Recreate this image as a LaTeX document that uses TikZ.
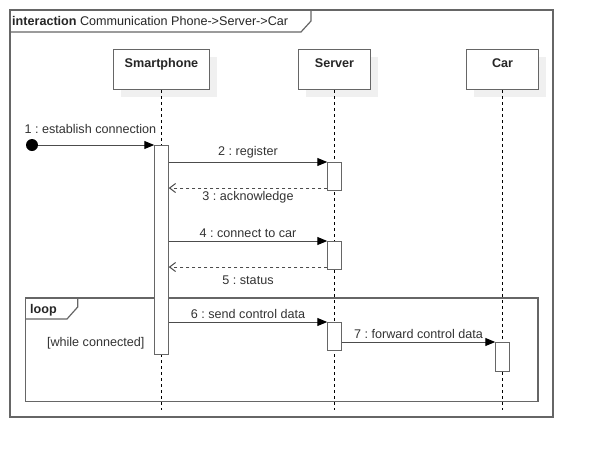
\documentclass[tikz,border=0pt]{standalone}
\usepackage{fontspec}
\setmainfont{Liberation Sans}
\usetikzlibrary{positioning,arrows.meta,shadows}

\tikzset{
  head/.style={draw=black!60, line width=1pt, fill=white, font=\bfseries, text=black!85,
    text height=18pt, text depth=22pt, inner sep=0pt,
    general shadow={fill=black!6, shadow xshift=7pt, shadow yshift=-7pt}},
  act/.style={draw=black!60, line width=1pt, fill=white, minimum width=13.5pt,
    inner sep=0pt, anchor=north},
  life/.style={black, line width=0.8pt, dash pattern=on 3pt off 3pt},
  msg/.style={draw=black!70, line width=1pt,
    -{Triangle[length=10pt,width=8pt,color=black]}},
  ret/.style={draw=black!70, line width=1pt, dash pattern=on 3pt off 3pt,
    -{Straight Barb[length=6pt,width=9pt]}},
  lbl/.style={text=black!80, inner sep=3pt},
  frame/.style={draw=black!60, line width=1.2pt},
}

\begin{document}
\frenchspacing
\fontsize{12.6}{15}\selectfont
\begin{tikzpicture}[x=1pt,y=-1pt]
  \fill[white] (0,0) rectangle (594,458);
  \useasboundingbox (0,0) rectangle (594,458);

  % frames
  \draw[frame] (10,10) rectangle (553,417);
  \draw[frame] (10,32) -- (301,32) -- (311,21) -- (311,10);
  \node[anchor=base west, inner sep=0pt, text=black!85] (ttl) at (12,25.5)
    {\textbf{interaction} Communication Phone->Server->Car};
  \draw[frame] (25.7,298) rectangle (538,401.7);
  \draw[frame] (25.7,319) -- (67,319) -- (77.7,307) -- (77.7,298);
  \node[anchor=base west, inner sep=0pt, text=black!85, font=\bfseries] (lp) at (30,313) {loop};
  \node[anchor=base, inner sep=0pt, text=black!80] (grd) at (95.7,346.5) {[while connected]};

  % lifelines
  \node[head, minimum width=96pt, anchor=north west] (sp) at (113,49) {Smartphone};
  \node[head, minimum width=72pt, right=88pt of sp] (sv) {Server};
  \node[head, minimum width=72pt, right=95pt of sv] (car) {Car};
  \coordinate (sp-end) at (sp.south |- 0,410);
  \coordinate (sv-end) at (sv.south |- 0,410);
  \coordinate (car-end) at (car.south |- 0,410);
  \draw[life] (sp) -- (sp-end);
  \draw[life] (sv) -- (sv-end);
  \draw[life] (car) -- (car-end);

  \node[act, minimum height=209pt] (a1) at (sp.south |- 0,145) {};
  \node[act, minimum height=28pt] (a2) at (sv.south |- 0,162) {};
  \node[act, minimum height=28pt] (a3) at (sv.south |- 0,241) {};
  \node[act, minimum height=28pt] (a4) at (sv.south |- 0,322) {};
  \node[act, minimum height=29pt] (a5) at (car.south |- 0,342) {};
  \node[circle, fill=black, minimum size=12pt, inner sep=0pt] (st) at (32,145) {};

  % messages
  \draw[msg] (st) -- (a1.north west) node[lbl, pos=0.45, above=8pt] {1 : establish connection};
  \draw[msg] (a1.east |- a2.north) -- (a2.north west) node[lbl, midway, above] {2 : register};
  \draw[ret] ([yshift=3pt]a2.south west) coordinate (r3) -- (a1.east |- r3)
    node[lbl, midway, below] {3 : acknowledge};
  \draw[msg] (a1.east |- a3.north) -- (a3.north west) node[lbl, midway, above] {4 : connect to car};
  \draw[ret] ([yshift=3pt]a3.south west) coordinate (r5) -- (a1.east |- r5)
    node[lbl, midway, below=5pt] {5 : status};
  \draw[msg] (a1.east |- a4.north) -- (a4.north west) node[lbl, midway, above] {6 : send control data};
  \draw[msg] (a4.east |- a5.north) -- (a5.north west) node[lbl, midway, above] {7 : forward control data};
\end{tikzpicture}
\end{document}
